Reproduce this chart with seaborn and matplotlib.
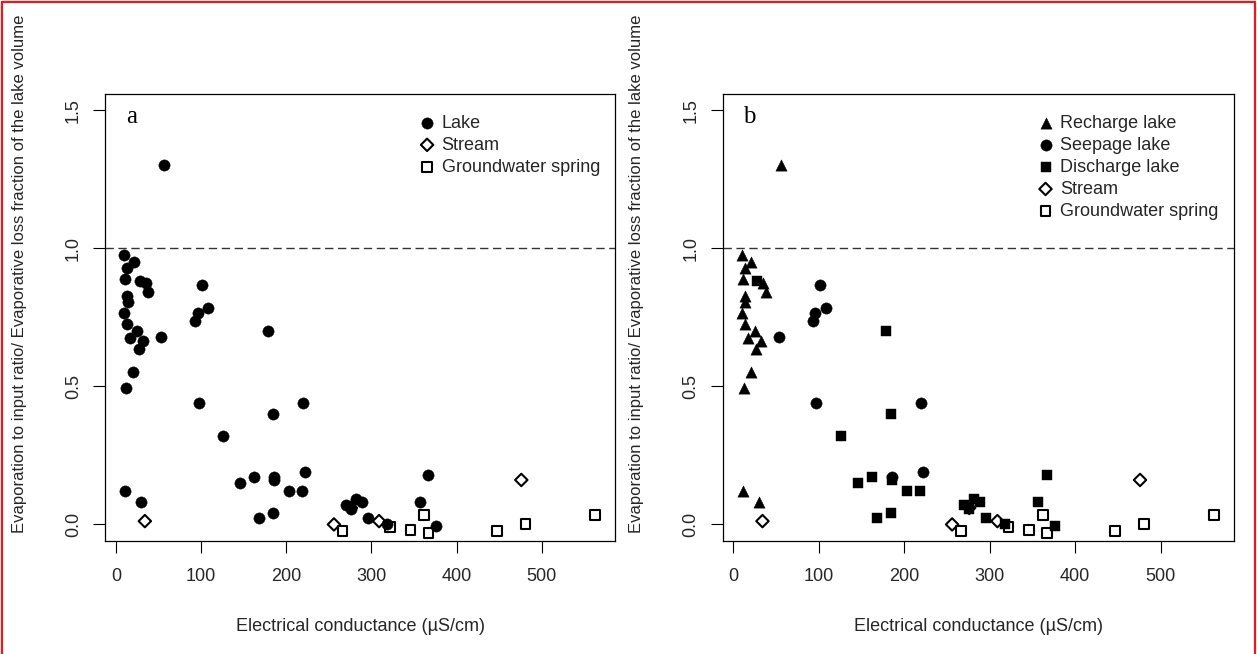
import numpy as np
import pandas as pd
import matplotlib
matplotlib.use("Agg")
import matplotlib.pyplot as plt
from matplotlib.lines import Line2D
import seaborn as sns

# ---------------- data ----------------
recharge_x = [56, 10, 21, 13, 11, 35, 38, 13, 14, 10, 13, 25, 17, 32, 27, 20, 12, 11, 30]
recharge_y = [1.30, 0.975, 0.95, 0.93, 0.89, 0.875, 0.84, 0.827, 0.805, 0.765, 0.725,
              0.70, 0.675, 0.665, 0.635, 0.55, 0.495, 0.12, 0.08]

seepage_x = [53, 101, 108, 96, 93, 97, 220, 222, 186]
seepage_y = [0.68, 0.868, 0.782, 0.766, 0.737, 0.44, 0.44, 0.19, 0.172]

discharge_x = [28, 179, 185, 126, 146, 162, 186, 203, 218, 168, 184, 270, 276, 282,
               289, 296, 318, 367, 357, 376]
discharge_y = [0.88, 0.70, 0.40, 0.32, 0.15, 0.171, 0.16, 0.122, 0.122, 0.023, 0.04,
               0.072, 0.056, 0.093, 0.08, 0.022, 0.0, 0.18, 0.082, -0.007]

stream_x = [34, 256, 276, 309, 476]
stream_y = [0.012, 0.0, 0.06, 0.012, 0.161]

spring_x = [266, 322, 346, 362, 367, 447, 481, 563]
spring_y = [-0.025, -0.008, -0.021, 0.033, -0.032, -0.025, 0.002, 0.033]

x_ticks = [0, 100, 200, 300, 400, 500]
y_ticks = [0.0, 0.5, 1.0, 1.5]
y_tick_labels = ["0.0", "0.5", "1.0", "1.5"]

x_label = "Electrical conductance (\u00b5S/cm)"
y_label = "Evaporation to input ratio/ Evaporative loss fraction of the lake volume"

# ---------------- style ----------------
sns.set_style("ticks")
plt.rcParams["font.family"] = ["Liberation Sans", "DejaVu Sans"]

TXT = "#262626"
W, H = 1257, 654
fig = plt.figure(figsize=(W / 100, H / 100), dpi=100)

ax1 = fig.add_axes([105.5 / W, 113 / H, 509.5 / W, 447.5 / H])
ax2 = fig.add_axes([723 / W, 113 / H, 511 / W, 447.5 / H])

lake_df = pd.DataFrame({"x": recharge_x + seepage_x + discharge_x,
                        "y": recharge_y + seepage_y + discharge_y})
rech_df = pd.DataFrame({"x": recharge_x, "y": recharge_y})
seep_df = pd.DataFrame({"x": seepage_x, "y": seepage_y})
disc_df = pd.DataFrame({"x": discharge_x, "y": discharge_y})
strm_df = pd.DataFrame({"x": stream_x, "y": stream_y})
sprg_df = pd.DataFrame({"x": spring_x, "y": spring_y})


def filled(ax, df, marker, s, label):
    sns.scatterplot(data=df, x="x", y="y", ax=ax, marker=marker, s=s,
                    color="black", edgecolor="black", linewidth=0.3, label=label, zorder=3)


def hollow(ax, df, marker, s, label):
    sns.scatterplot(data=df, x="x", y="y", ax=ax, marker=marker, s=s,
                    color="black", facecolor="none", edgecolor="black",
                    linewidth=1.5, label=label, zorder=4)


# panel a
filled(ax1, lake_df, "o", 66, "Lake")
hollow(ax1, strm_df, "D", 40, "Stream")
hollow(ax1, sprg_df, "s", 50, "Groundwater spring")

# panel b
filled(ax2, rech_df, "^", 66, "Recharge lake")
filled(ax2, seep_df, "o", 66, "Seepage lake")
filled(ax2, disc_df, "s", 50, "Discharge lake")
hollow(ax2, strm_df, "D", 40, "Stream")
hollow(ax2, sprg_df, "s", 50, "Groundwater spring")

for ax, letter in [(ax1, "a"), (ax2, "b")]:
    ax.axhline(1.0, color="#333333", lw=1.0, ls=(0, (6, 3.3)), zorder=1)
    ax.set_xlim(-12.2, 586)
    ax.set_ylim(-0.06, 1.56)
    ax.set_xticks(x_ticks)
    ax.set_xticklabels([str(v) for v in x_ticks])
    ax.set_yticks(y_ticks)
    ax.set_yticklabels(y_tick_labels)
    for sp in ax.spines.values():
        sp.set_visible(True)
        sp.set_color("black")
        sp.set_linewidth(0.9)
    ax.tick_params(axis="both", direction="out", length=8.3, width=0.8,
                   color="black", labelsize=13, labelcolor=TXT)
    ax.tick_params(axis="x", pad=11)
    ax.tick_params(axis="y", pad=8.6, labelrotation=90)
    for tl in ax.get_yticklabels():
        tl.set_va("center")
    ax.set_xlabel(x_label, fontsize=13, color=TXT)
    ax.xaxis.set_label_coords(0.5, -0.172)
    ax.set_ylabel(y_label, fontsize=12, color=TXT)
    ax.yaxis.set_label_coords(-0.155, 0.597)
    ax.text(0.04, 0.935, letter, transform=ax.transAxes, fontsize=18,
            family=["Liberation Serif", "DejaVu Serif"], color="black",
            ha="left", va="baseline")
    ax.legend(loc="upper left", bbox_to_anchor=(0.617, 0.953), frameon=False,
              fontsize=13, handlelength=0.8, handletextpad=0.4, borderpad=0,
              borderaxespad=0, labelspacing=0.28, labelcolor=TXT)

# red frame around the figure
for xs, ys in [([2 / W, 2 / W], [0, 1 - 2 / H]),
               ([2 / W, 1 - 2 / W], [1 - 2 / H, 1 - 2 / H]),
               ([1 - 2 / W, 1 - 2 / W], [0, 1 - 2 / H])]:
    fig.add_artist(Line2D(xs, ys, transform=fig.transFigure, color="#e8181c", lw=1.6))

fig.savefig("out.png", dpi=100, facecolor="white")
